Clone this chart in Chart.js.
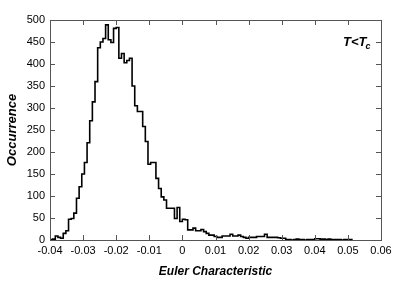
<!DOCTYPE html>
<html>
<head>
<meta charset="utf-8">
<script src="https://cdn.jsdelivr.net/npm/chart.js@4.4.0/dist/chart.umd.min.js"></script>
<style>
  html, body { margin: 0; padding: 0; background: #fff; }
</style>
</head>
<body>
<canvas id="hist" width="403" height="282"></canvas>
<script>
// histogram of the Euler characteristic, bins of 0.0008 starting at -0.04
const binStart = -0.04;
const binWidth = 0.0008;
const counts = [
    1, 2, 9, 6, 4, 15, 21, 47, 49, 61,
    95, 121, 150, 176, 221, 271, 314, 360, 437, 450,
    458, 489, 455, 449, 481, 483, 413, 424, 403, 408,
    413, 350, 305, 292, 292, 258, 224, 172, 176, 176,
    140, 117, 98, 91, 72, 72, 72, 49, 74, 42,
    47, 46, 23, 23, 27, 21, 21, 24, 19, 15,
    11, 11, 8, 6, 6, 9, 9, 9, 13, 9,
    9, 11, 8, 6, 4, 6, 6, 6, 8, 8,
    8, 13, 6, 6, 6, 6, 5, 4, 4, 1,
    1, 0, 1, 2, 1, 1, 0, 1, 1, 1,
    3, 3, 2, 2, 1, 2, 1, 1, 1, 1,
    0, 1, 1, 1
];
const xTicks = [-0.04, -0.03, -0.02, -0.01, 0, 0.01, 0.02, 0.03, 0.04, 0.05, 0.06];
const yTicks = [0, 50, 100, 150, 200, 250, 300, 350, 400, 450, 500];

// left edge of each bin, plus a closing point that drops back to zero
const points = counts.map((c, i) => ({ x: binStart + i * binWidth, y: c }));
points.push({ x: binStart + counts.length * binWidth, y: 0 });

const frameColor = '#555';

// ticks drawn inward on all four sides, plus the box and the T<Tc label
const framePlugin = {
    id: 'frame',
    afterDraw(chart) {
        const ctx = chart.ctx;
        const a = chart.chartArea;
        const xs = chart.scales.x;
        const ys = chart.scales.y;
        ctx.save();
        ctx.strokeStyle = frameColor;
        ctx.lineWidth = 1;
        ctx.beginPath();
        xTicks.forEach(v => {
            const px = Math.round(xs.getPixelForValue(v)) + 0.5;
            ctx.moveTo(px, a.bottom); ctx.lineTo(px, a.bottom - 5);
            ctx.moveTo(px, a.top); ctx.lineTo(px, a.top + 5);
        });
        yTicks.forEach(v => {
            const py = Math.round(ys.getPixelForValue(v)) + 0.5;
            ctx.moveTo(a.left, py); ctx.lineTo(a.left + 5, py);
            ctx.moveTo(a.right, py); ctx.lineTo(a.right - 5, py);
        });
        ctx.stroke();
        ctx.strokeRect(Math.round(a.left) + 0.5, Math.round(a.top) + 0.5,
            Math.round(a.right - a.left), Math.round(a.bottom - a.top));

        ctx.fillStyle = '#000';
        ctx.textBaseline = 'alphabetic';
        ctx.font = 'italic bold 13px "Liberation Sans", Arial, sans-serif';
        ctx.fillText('T<T', 343, 46);
        const w = ctx.measureText('T<T').width;
        ctx.font = 'italic bold 9px "Liberation Sans", Arial, sans-serif';
        ctx.fillText('c', 343 + w - 1, 49);
        ctx.restore();
    }
};

new Chart(document.getElementById('hist'), {
    type: 'line',
    data: {
        datasets: [{
            data: points,
            stepped: 'before',
            borderColor: '#000',
            borderWidth: 1.6,
            pointRadius: 0,
            fill: false
        }]
    },
    options: {
        responsive: false,
        animation: false,
        layout: { padding: { top: 20, right: 22, left: 0, bottom: 0 } },
        plugins: { legend: { display: false }, tooltip: { enabled: false } },
        scales: {
            x: {
                type: 'linear',
                min: -0.04,
                max: 0.06,
                afterBuildTicks: s => { s.ticks = xTicks.map(v => ({ value: v })); },
                afterFit: s => { s.height = 42; },
                grid: { display: false, drawTicks: false },
                border: { display: false },
                ticks: {
                    padding: 4,
                    maxRotation: 0,
                    autoSkip: false,
                    color: '#000',
                    font: { family: '"Liberation Sans", Arial, sans-serif', size: 11 },
                    callback: v => (Math.abs(v) < 1e-9 ? '0' : v.toFixed(2))
                },
                title: {
                    display: true,
                    text: 'Euler Characteristic',
                    color: '#000',
                    padding: { top: 0, bottom: 3 },
                    font: { family: '"Liberation Sans", Arial, sans-serif', size: 12, weight: 'bold', style: 'italic' }
                }
            },
            y: {
                min: 0,
                max: 500,
                afterBuildTicks: s => { s.ticks = yTicks.map(v => ({ value: v })); },
                afterFit: s => { s.width = 50; },
                grid: { display: false, drawTicks: false },
                border: { display: false },
                ticks: {
                    padding: 5,
                    autoSkip: false,
                    color: '#000',
                    font: { family: '"Liberation Sans", Arial, sans-serif', size: 11 }
                },
                title: {
                    display: true,
                    text: 'Occurrence',
                    color: '#000',
                    padding: { top: 5, bottom: 0 },
                    font: { family: '"Liberation Sans", Arial, sans-serif', size: 13, weight: 'bold', style: 'italic' }
                }
            }
        }
    },
    plugins: [framePlugin]
});
</script>
</body>
</html>
